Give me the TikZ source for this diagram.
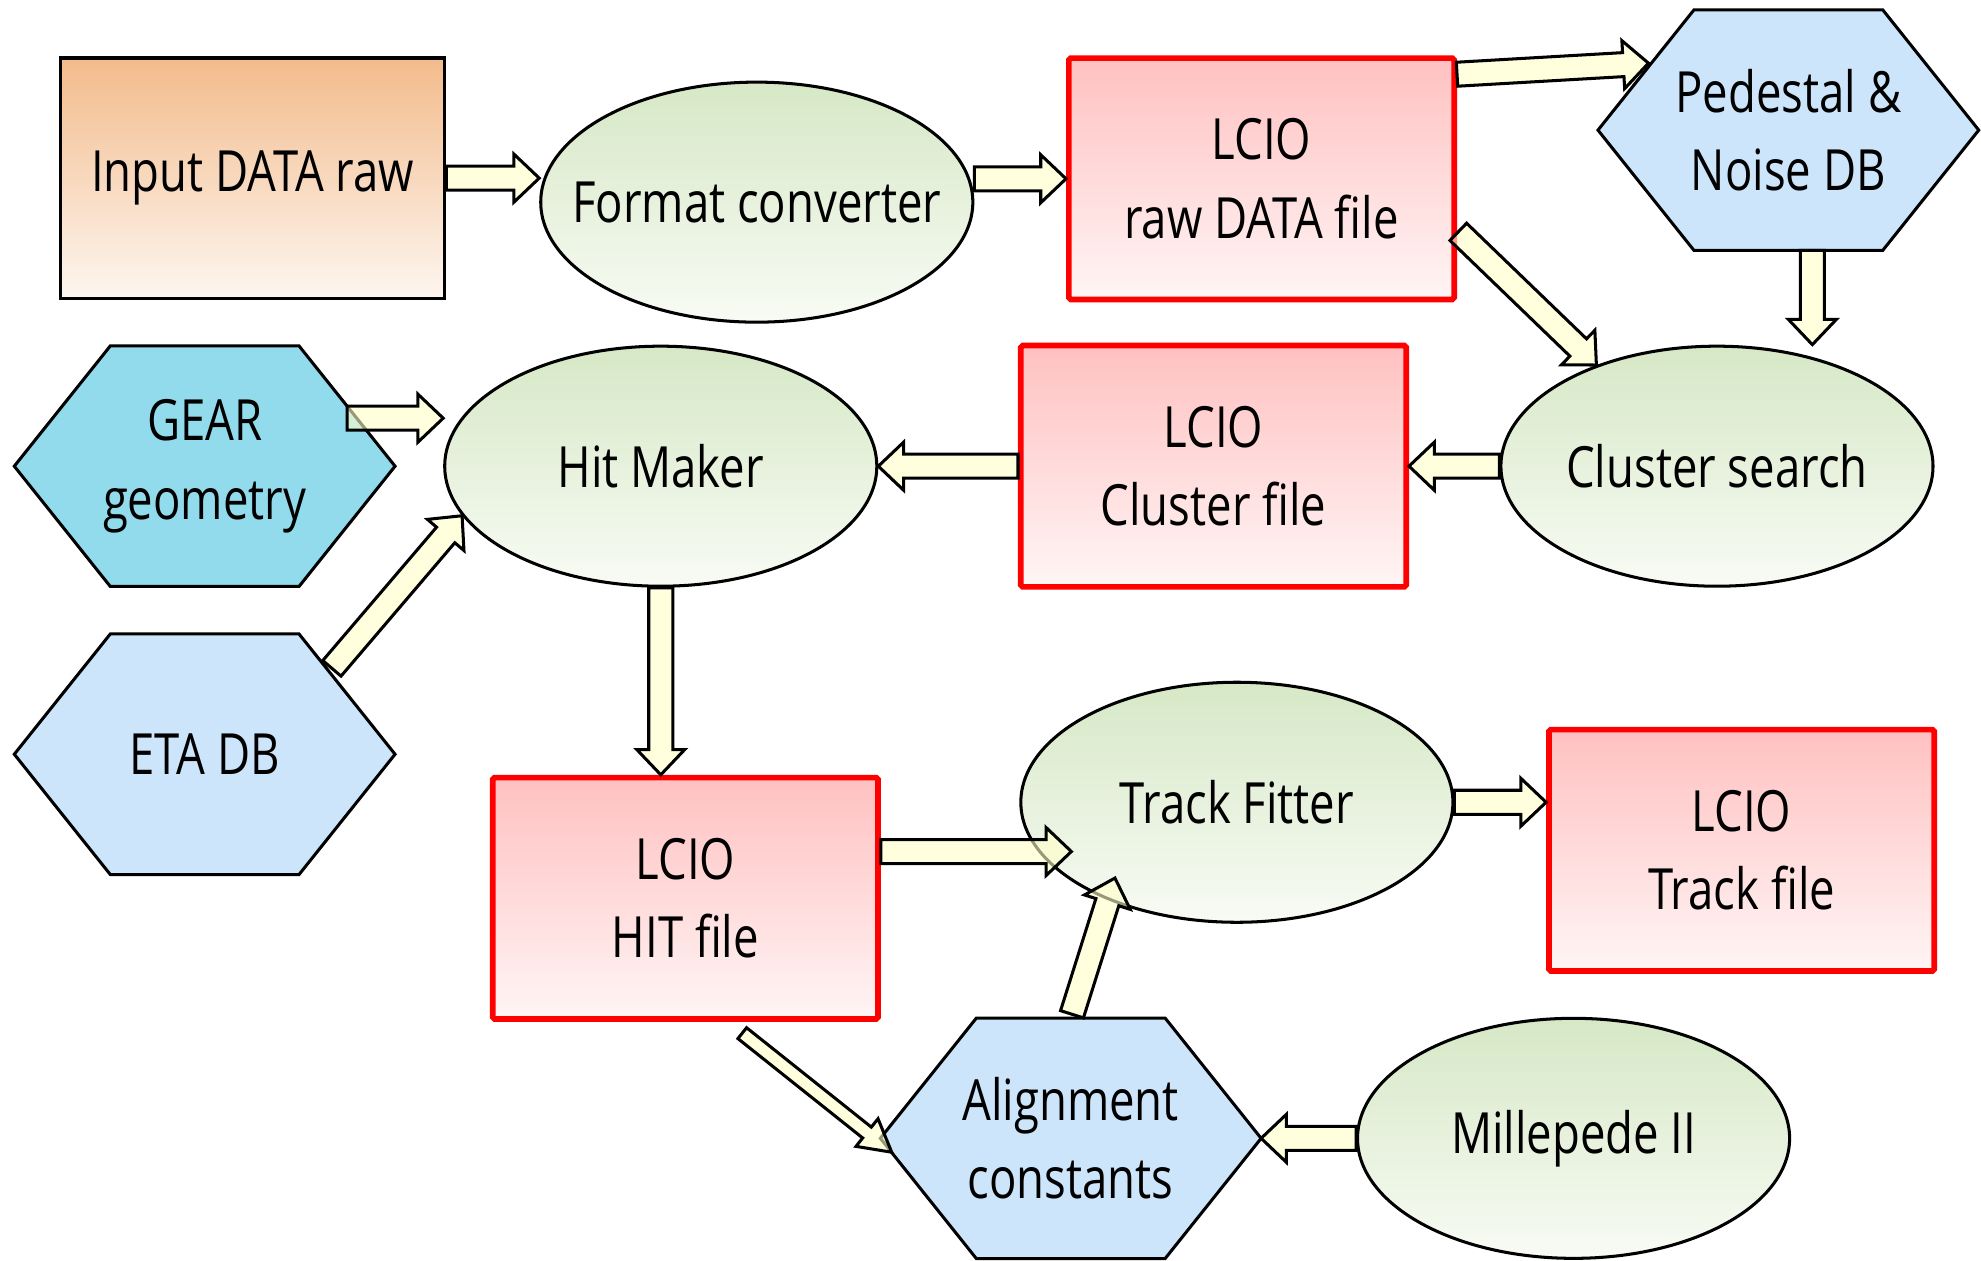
\documentclass[tikz,border=0pt]{standalone}
\usepackage{fontspec}
\newfontfamily\hand{Open Sans}[FakeStretch=0.8]
\usetikzlibrary{shapes.geometric,calc}
\pgfdeclarelayer{bg}
\pgfsetlayers{bg,main}
\definecolor{inptop}{RGB}{243,187,139}
\definecolor{inpbot}{RGB}{253,246,240}
\definecolor{lciotop}{RGB}{255,193,193}
\definecolor{lciobot}{RGB}{255,245,245}
\definecolor{elltop}{RGB}{214,232,198}
\definecolor{ellbot}{RGB}{248,251,244}
\definecolor{hexblue}{RGB}{204,229,251}
\definecolor{hexcyan}{RGB}{146,219,236}
\definecolor{arrfill}{RGB}{255,255,200}
\def\bS{9.5pt}\def\bW{19pt}\def\bH{20pt}
\newcommand\hexshape[2]{%
  \begin{pgfonlayer}{bg}
  \path[hexline,fill=#2] (#1.west) -- ($(#1.north west)+(76,0)$) -- ($(#1.north east)+(-76,0)$)
    -- (#1.east) -- ($(#1.south east)+(-76,0)$) -- ($(#1.south west)+(76,0)$) -- cycle;
  \end{pgfonlayer}}
\begin{document}
\begin{tikzpicture}[x=1pt,y=-1pt,
  txt/.style={font=\hand\fontsize{45}{62}\selectfont, align=center, inner sep=0pt},
  inbox/.style={txt, rectangle, draw=black, line width=2.6pt, top color=inptop, bottom color=inpbot,
    minimum width=304pt, minimum height=190pt},
  lcio/.style={txt, rectangle, draw=red, line width=4.5pt, rounded corners=1.5pt,
    top color=lciotop, bottom color=lciobot, minimum width=305pt, minimum height=191pt},
  ell/.style={txt, ellipse, draw=black, line width=2.4pt, top color=elltop, bottom color=ellbot,
    minimum width=342pt, minimum height=190pt},
  hexn/.style={txt, rectangle, minimum width=301pt, minimum height=190pt},
  hexline/.style={draw=black, line width=2.4pt, line join=miter},
  thinarrow/.code={\def\bS{5.5pt}\def\bW{14pt}\def\bH{25pt}},
  barrow/.style={draw=black, line width=2.4pt, fill=arrfill, fill opacity=0.6, line join=miter,
    to path={
      ($(\tikztostart)!\bS!90:(\tikztotarget)$)
      -- ($($(\tikztotarget)!\bH!(\tikztostart)$)!\bS!90:(\tikztotarget)$)
      -- ($($(\tikztotarget)!\bH!(\tikztostart)$)!\bW!90:(\tikztotarget)$)
      -- (\tikztotarget)
      -- ($($(\tikztotarget)!\bH!(\tikztostart)$)!\bW!-90:(\tikztotarget)$)
      -- ($($(\tikztotarget)!\bH!(\tikztostart)$)!\bS!-90:(\tikztotarget)$)
      -- ($(\tikztostart)!\bS!-90:(\tikztotarget)$)
      -- cycle}}
]
\useasboundingbox (0,0) rectangle (1568,998);
\begin{pgfonlayer}{bg}
\fill[white] (0,0) rectangle (1568,998);
\end{pgfonlayer}

% nodes
\node[inbox] (inp) at (200,141) {Input DATA raw};
\node[ell] (fmt) at (599,160) {\makebox[0pt]{Format converter}};
\node[lcio] (raw) at (998.5,141.5) {LCIO\\raw DATA file};
\node[hexn] (ped) at (1415.5,103) {Pedestal \&\\Noise DB};
\node[ell] (clu) at (1359,369) {\makebox[0pt]{Cluster search}};
\node[lcio] (clf) at (960.5,369) {LCIO\\Cluster file};
\node[ell] (hit) at (523,369) {\makebox[0pt]{Hit Maker}};
\node[hexn] (gear) at (162,369) {GEAR\\geometry};
\node[hexn] (eta) at (162,597) {ETA DB};
\node[lcio] (hitf) at (542.5,711) {LCIO\\HIT file};
\node[ell] (trk) at (979,635) {\makebox[0pt]{Track Fitter}};
\node[lcio] (trkf) at (1378.5,673) {LCIO\\Track file};
\node[hexn] (ali) at (847.5,901) {Alignment\\constants};
\node[ell] (mil) at (1245.5,901) {\makebox[0pt]{Millepede II}};

\hexshape{ped}{hexblue}
\hexshape{gear}{hexcyan}
\hexshape{eta}{hexblue}
\hexshape{ali}{hexblue}

% connector end points
\coordinate (e1) at (inp.east -| fmt.west);
\coordinate (s2) at (fmt.east |- raw.west);
\coordinate (s3) at ($(raw.north east)+(0,15)$);
\coordinate (e3) at ($(ped.west)+(40,-53)$);
\coordinate (s4) at ($(ped.south)+(19,0)$);
\coordinate (e4) at (s4 |- clu.north);
\coordinate (s5) at ($(raw.east)+(1,42)$);
\coordinate (s8) at ($(gear.east)+(-38,-38)$);
\coordinate (e8) at ($(hit.west)+(0,-38)$);
\coordinate (s9) at ($(eta.east)+(-50,-68)$);
\coordinate (e10) at (hit.south |- hitf.north);
\coordinate (s11) at ($(hitf.east)+(0,-37)$);
\coordinate (e11) at ($(trk.center)+(-131,39)$);
\coordinate (e12) at (trk.east -| trkf.west);
\coordinate (s13) at ($(ali.north)+(1,-3)$);
\coordinate (e13) at ($(trk.center)+(-96.5,60)$);
\coordinate (s14) at ($(hitf.south)+(45,9)$);
\coordinate (e14) at ($(ali.west)+(9,11)$);

% connectors
\draw[barrow] (inp.east) to (e1);
\draw[barrow] (s2) to (raw.west);
\draw[barrow] (s3) to (e3);
\draw[barrow] (s4) to (e4);
\draw[barrow] (s5) to (clu.140);
\draw[barrow] (clu.west) to (clf.east);
\draw[barrow] (clf.west) to (hit.east);
\draw[barrow] (s8) to (e8);
\draw[barrow] (s9) to (hit.194);
\draw[barrow] (hit.south) to (e10);
\draw[barrow] (s11) to (e11);
\draw[barrow] (trk.east) to (e12);
\draw[barrow] (s13) to (e13);
\draw[barrow,thinarrow] (s14) to (e14);
\draw[barrow] (mil.west) to (ali.east);
\end{tikzpicture}
\end{document}
